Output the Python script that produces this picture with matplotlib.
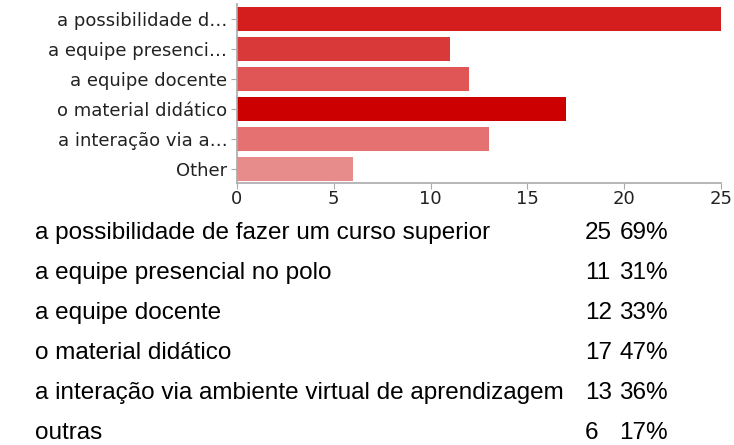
import matplotlib.pyplot as plt
from matplotlib import font_manager

short_labels = ["a possibilidade d…", "a equipe presenci…", "a equipe docente",
                "o material didático", "a interação via a…", "Other"]
full_labels = ["a possibilidade de fazer um curso superior",
               "a equipe presencial no polo",
               "a equipe docente",
               "o material didático",
               "a interação via ambiente virtual de aprendizagem",
               "outras"]
counts = [25, 11, 12, 17, 13, 6]
percents = [69, 31, 33, 47, 36, 17]
x_ticks = [0, 5, 10, 15, 20, 25]
bar_colors = ["#d41e1e", "#da3939", "#e05656", "#cc0000", "#e57171", "#e88b8b"]

names = {f.name for f in font_manager.fontManager.ttflist}
table_font = "Liberation Sans Narrow" if "Liberation Sans Narrow" in names else "Liberation Sans"

W, H = 734, 445
fig = plt.figure(figsize=(W / 100, H / 100), dpi=100)
ax = fig.add_axes([237 / W, 1 - 183 / H, (721 - 237) / W, 179 / H])

ypos = list(range(len(counts)))
ax.barh(ypos, counts, height=0.8, color=bar_colors)
ax.set_ylim(5.47, -0.5)
ax.set_xlim(0, 25)
ax.set_xticks(x_ticks)
ax.set_xticklabels([str(t) for t in x_ticks], fontfamily="DejaVu Sans", fontsize=13,
                   color="#222222")
ax.set_yticks(ypos)
ax.set_yticklabels(short_labels, fontfamily="DejaVu Sans", fontsize=13, color="#222222")
for s in ["top", "right"]:
    ax.spines[s].set_visible(False)
for s in ["left", "bottom"]:
    ax.spines[s].set_color("#aaaaaa")
    ax.spines[s].set_linewidth(1.2)
ax.tick_params(axis="y", length=4, color="#aaaaaa", pad=3)
ax.tick_params(axis="x", length=4, color="#aaaaaa", pad=1)

# table below the chart
row_y = [233, 273, 313, 353, 393, 433]
for lbl, c, p, y in zip(full_labels, counts, percents, row_y):
    fy = 1 - y / H
    fig.text(35 / W, fy, lbl, fontsize=17.5, family=table_font, va="center", ha="left")
    fig.text(585 / W, fy, str(c), fontsize=17.5, family=table_font, va="center", ha="left")
    fig.text(668 / W, fy, f"{p}%", fontsize=17.5, family=table_font, va="center", ha="right")

fig.savefig("out.png", dpi=100)
